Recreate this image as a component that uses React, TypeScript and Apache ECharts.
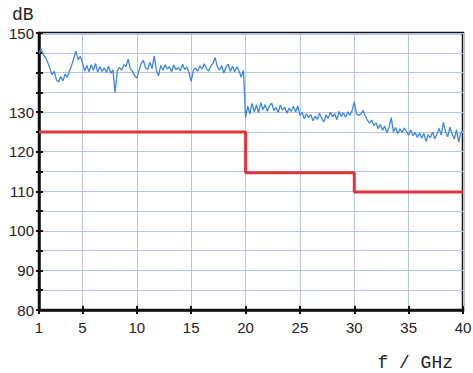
import React, { useEffect, useRef } from "react";
import * as echarts from "echarts";

// Frequency sampling of the measured trace (GHz)
const traceStart = 1;
const traceStep = 0.2;
// Measured level (dB), one row per GHz
const traceValues = [
  144.8, 146.0, 144.5, 143.8, 142.6,
  141.0, 139.5, 140.3, 138.2, 137.6,
  139.0, 137.9, 139.6, 138.8, 140.4,
  141.8, 143.6, 145.4, 143.2, 144.1,
  142.5, 140.4, 141.8, 140.2, 142.0,
  140.6, 142.3, 140.1, 141.5, 140.3,
  141.2, 140.0, 141.6, 139.8, 140.7,
  134.9, 140.4, 141.3, 140.6, 142.0,
  141.5, 143.4, 141.0, 140.3, 139.2,
  138.6, 140.5, 142.3, 143.1, 141.2,
  140.8, 142.6, 141.0, 144.2, 140.5,
  139.2, 141.8, 140.6, 142.0, 140.9,
  141.5, 140.2, 141.9, 140.7, 141.3,
  140.5, 142.1, 140.8, 141.4, 139.9,
  137.8, 140.6, 141.2, 140.3, 141.7,
  140.9, 142.2, 141.0, 140.4, 141.6,
  142.3, 143.8, 141.5, 140.6, 141.8,
  139.9, 141.4, 142.1, 140.3, 141.6,
  140.2, 141.5, 140.4, 138.8, 140.6,
  128.6, 131.5, 129.6, 132.2, 130.1,
  131.8, 129.8, 132.4, 130.6, 131.9,
  130.2, 131.6, 132.3, 130.4, 131.2,
  129.9, 131.8, 130.5, 131.3, 129.7,
  131.0, 130.2, 131.5, 130.0, 131.6,
  129.2, 129.9, 128.3, 129.6, 128.6,
  129.4, 127.8, 129.0, 128.2, 129.7,
  128.5, 127.5, 129.3, 128.4, 130.0,
  128.8, 129.6, 128.1, 130.2, 128.9,
  129.8, 128.7, 130.1, 129.2, 130.4,
  132.6, 129.6, 129.2, 129.5, 130.4,
  129.1, 128.0, 127.2, 128.0, 126.6,
  127.3, 125.8, 126.9, 125.4, 126.5,
  124.8, 126.2, 128.6, 125.0, 126.1,
  124.6, 125.8, 124.9, 126.0, 125.1,
  124.2, 125.5, 124.0, 124.9, 123.6,
  124.7, 123.4, 124.6, 122.6, 124.3,
  123.5, 125.0, 123.2, 124.4, 125.9,
  124.2, 127.4, 125.0, 123.8, 126.2,
  124.4, 123.2, 125.6, 122.4, 124.8,
  125.2,
];

// Limit line: band edges (GHz) and levels (dB)
const limitEdges = [1, 20, 30, 40];
const limitLevels = [125, 114.7, 109.8];

// Axis ticks / labels
const xTickValues = [1, 5, 10, 15, 20, 25, 30, 35, 40];
const yLabelValues = [80, 90, 100, 110, 120, 130, 150];

export default function App() {
  const ref = useRef<HTMLDivElement>(null);

  useEffect(() => {
    if (!ref.current) return;
    const chart = echarts.init(ref.current, null, { renderer: "svg" });

    const traceData = traceValues.map((v, i) => [
      +(traceStart + i * traceStep).toFixed(1),
      v,
    ]);
    const limitData: number[][] = limitEdges.map((e, i) => [
      e,
      limitLevels[Math.min(i, limitLevels.length - 1)],
    ]);

    const labelStyle = {
      color: "#222",
      fontFamily: "Liberation Sans, Arial, sans-serif",
      fontSize: 15,
    };

    chart.setOption({
      animation: false,
      backgroundColor: "#fff",
      grid: {
        left: 39,
        right: 10,
        top: 33,
        bottom: 63,
        show: true,
        borderColor: "#111",
        borderWidth: 2.5,
        outerBoundsMode: "none",
      },
      xAxis: [
        {
          type: "value",
          min: 1,
          max: 40,
          axisLine: { show: true, lineStyle: { color: "#111", width: 2.5 } },
          axisTick: {
            show: true,
            customValues: xTickValues,
            length: 4,
            lineStyle: { color: "#111", width: 2 },
          },
          axisLabel: { customValues: xTickValues, margin: 10, ...labelStyle },
          splitLine: { show: true, lineStyle: { color: "#b7c3ee", width: 1 } },
        },
        {
          type: "value",
          min: 1,
          max: 40,
          position: "bottom",
          axisLine: { show: false },
          axisTick: {
            show: true,
            inside: true,
            customValues: xTickValues,
            length: 4,
            lineStyle: { color: "#111", width: 2 },
          },
          axisLabel: { show: false },
          splitLine: { show: false },
        },
      ],
      yAxis: [
        {
          type: "value",
          min: 80,
          max: 150,
          interval: 5,
          axisLine: { show: true, lineStyle: { color: "#111", width: 2.5 } },
          axisTick: {
            show: true,
            length: 3,
            lineStyle: { color: "#111", width: 2 },
          },
          axisLabel: { customValues: yLabelValues, margin: 5, ...labelStyle },
          splitLine: { show: true, lineStyle: { color: "#b7c3ee", width: 1 } },
        },
        {
          type: "value",
          min: 80,
          max: 150,
          interval: 5,
          position: "left",
          axisLine: { show: false },
          axisTick: {
            show: true,
            inside: true,
            length: 4,
            lineStyle: { color: "#111", width: 2 },
          },
          axisLabel: { show: false },
          splitLine: { show: false },
        },
      ],
      graphic: [
        {
          type: "text",
          left: 12,
          top: 6,
          style: {
            text: "dB",
            fontFamily: "Liberation Mono, Courier New, monospace",
            fontSize: 18,
            fill: "#222",
          },
        },
        {
          type: "text",
          right: 20,
          top: 354,
          style: {
            text: "f / GHz",
            fontFamily: "Liberation Mono, Courier New, monospace",
            fontSize: 18,
            fill: "#222",
          },
        },
      ],
      series: [
        {
          type: "line",
          name: "measured",
          xAxisIndex: 0,
          yAxisIndex: 0,
          data: traceData,
          symbol: "none",
          lineStyle: { color: "#3d87dc", width: 1.3 },
          z: 3,
        },
        {
          type: "line",
          name: "limit",
          xAxisIndex: 0,
          yAxisIndex: 0,
          data: limitData,
          step: "end",
          symbol: "none",
          lineStyle: { color: "#e2343a", width: 3 },
          z: 4,
        },
      ],
    });

    return () => chart.dispose();
  }, []);

  return (
    <div
      ref={ref}
      style={{ position: "absolute", left: 0, top: 0, width: 473, height: 373 }}
    />
  );
}
